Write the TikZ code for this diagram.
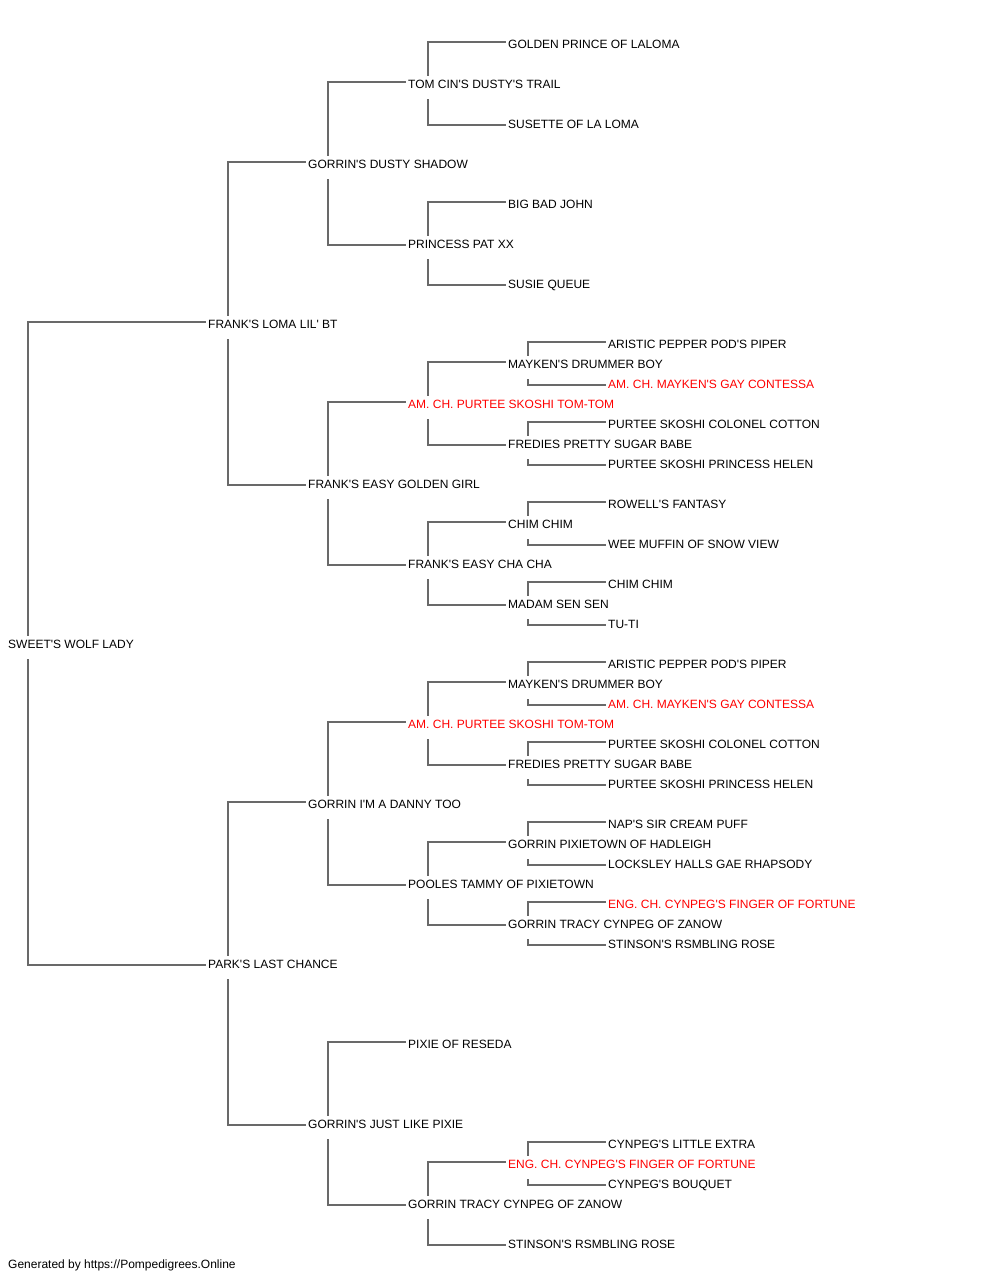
\documentclass[tikz,border=0pt]{standalone}
\usepackage{fontspec}
\setmainfont{Liberation Sans}[Ligatures=TeXOff]
\usetikzlibrary{backgrounds}
\definecolor{ln}{RGB}{105,105,105}
\definecolor{hl}{RGB}{255,0,0}
\tikzset{
  person/.style={anchor=base west, inner xsep=2pt, inner ysep=0pt, text height=12pt, text depth=10.5pt, fill=white, font=\fontsize{12}{14}\selectfont},
  champ/.style={text=hl},
  link/.style={draw=ln, line width=1.5pt}
}
\newcommand\pedNode[5][]{\node[person,#1] (#2) at ({#3-2},{8.3+20*#4}) {#5};}
\newcommand\pedLink[3]{\draw[link] ([yshift=6.3pt]#2.base west) -| ([xshift=22pt]#1.base west) |- ([yshift=3.3pt]#3.base west);}
\begin{document}
\begin{tikzpicture}[x=1pt,y=-1pt]
\useasboundingbox (0,0) rectangle (1000,1280);
% generation 0
\pedNode{s}{8}{32}{SWEET'S WOLF LADY}
% sire side
\pedNode{f}{208}{16}{FRANK'S LOMA LIL' BT}
\pedNode{ff}{308}{8}{GORRIN'S DUSTY SHADOW}
\pedNode{fff}{408}{4}{TOM CIN'S DUSTY'S TRAIL}
\pedNode{ffff}{508}{2}{GOLDEN PRINCE OF LALOMA}
\pedNode{fffm}{508}{6}{SUSETTE OF LA LOMA}
\pedNode{ffm}{408}{12}{PRINCESS PAT XX}
\pedNode{ffmf}{508}{10}{BIG BAD JOHN}
\pedNode{ffmm}{508}{14}{SUSIE QUEUE}
\pedNode{fm}{308}{24}{FRANK'S EASY GOLDEN GIRL}
\pedNode[champ]{fmf}{408}{20}{AM. CH. PURTEE SKOSHI TOM-TOM}
\pedNode{fmff}{508}{18}{MAYKEN'S DRUMMER BOY}
\pedNode{fmfff}{608}{17}{ARISTIC PEPPER POD'S PIPER}
\pedNode[champ]{fmffm}{608}{19}{AM. CH. MAYKEN'S GAY CONTESSA}
\pedNode{fmfm}{508}{22}{FREDIES PRETTY SUGAR BABE}
\pedNode{fmfmf}{608}{21}{PURTEE SKOSHI COLONEL COTTON}
\pedNode{fmfmm}{608}{23}{PURTEE SKOSHI PRINCESS HELEN}
\pedNode{fmm}{408}{28}{FRANK'S EASY CHA CHA}
\pedNode{fmmf}{508}{26}{CHIM CHIM}
\pedNode{fmmff}{608}{25}{ROWELL'S FANTASY}
\pedNode{fmmfm}{608}{27}{WEE MUFFIN OF SNOW VIEW}
\pedNode{fmmm}{508}{30}{MADAM SEN SEN}
\pedNode{fmmmf}{608}{29}{CHIM CHIM}
\pedNode{fmmmm}{608}{31}{TU-TI}
% dam side
\pedNode{m}{208}{48}{PARK'S LAST CHANCE}
\pedNode{mf}{308}{40}{GORRIN I'M A DANNY TOO}
\pedNode[champ]{mff}{408}{36}{AM. CH. PURTEE SKOSHI TOM-TOM}
\pedNode{mfff}{508}{34}{MAYKEN'S DRUMMER BOY}
\pedNode{mffff}{608}{33}{ARISTIC PEPPER POD'S PIPER}
\pedNode[champ]{mfffm}{608}{35}{AM. CH. MAYKEN'S GAY CONTESSA}
\pedNode{mffm}{508}{38}{FREDIES PRETTY SUGAR BABE}
\pedNode{mffmf}{608}{37}{PURTEE SKOSHI COLONEL COTTON}
\pedNode{mffmm}{608}{39}{PURTEE SKOSHI PRINCESS HELEN}
\pedNode{mfm}{408}{44}{POOLES TAMMY OF PIXIETOWN}
\pedNode{mfmf}{508}{42}{GORRIN PIXIETOWN OF HADLEIGH}
\pedNode{mfmff}{608}{41}{NAP'S SIR CREAM PUFF}
\pedNode{mfmfm}{608}{43}{LOCKSLEY HALLS GAE RHAPSODY}
\pedNode{mfmm}{508}{46}{GORRIN TRACY CYNPEG OF ZANOW}
\pedNode[champ]{mfmmf}{608}{45}{ENG. CH. CYNPEG'S FINGER OF FORTUNE}
\pedNode{mfmmm}{608}{47}{STINSON'S RSMBLING ROSE}
\pedNode{mm}{308}{56}{GORRIN'S JUST LIKE PIXIE}
\pedNode{mmf}{408}{52}{PIXIE OF RESEDA}
\pedNode{mmm}{408}{60}{GORRIN TRACY CYNPEG OF ZANOW}
\pedNode[champ]{mmmf}{508}{58}{ENG. CH. CYNPEG'S FINGER OF FORTUNE}
\pedNode{mmmff}{608}{57}{CYNPEG'S LITTLE EXTRA}
\pedNode{mmmfm}{608}{59}{CYNPEG'S BOUQUET}
\pedNode{mmmm}{508}{62}{STINSON'S RSMBLING ROSE}
% footer
\node[anchor=base west, inner sep=0pt, font=\fontsize{12}{14}\selectfont] (footer) at (8,1268.3) {Generated by https://Pompedigrees.Online};
% connectors
\begin{scope}[on background layer]
\pedLink{s}{f}{m}
\pedLink{f}{ff}{fm}
\pedLink{ff}{fff}{ffm}
\pedLink{fff}{ffff}{fffm}
\pedLink{ffm}{ffmf}{ffmm}
\pedLink{fm}{fmf}{fmm}
\pedLink{fmf}{fmff}{fmfm}
\pedLink{fmff}{fmfff}{fmffm}
\pedLink{fmfm}{fmfmf}{fmfmm}
\pedLink{fmm}{fmmf}{fmmm}
\pedLink{fmmf}{fmmff}{fmmfm}
\pedLink{fmmm}{fmmmf}{fmmmm}
\pedLink{m}{mf}{mm}
\pedLink{mf}{mff}{mfm}
\pedLink{mff}{mfff}{mffm}
\pedLink{mfff}{mffff}{mfffm}
\pedLink{mffm}{mffmf}{mffmm}
\pedLink{mfm}{mfmf}{mfmm}
\pedLink{mfmf}{mfmff}{mfmfm}
\pedLink{mfmm}{mfmmf}{mfmmm}
\pedLink{mm}{mmf}{mmm}
\pedLink{mmm}{mmmf}{mmmm}
\pedLink{mmmf}{mmmff}{mmmfm}
\end{scope}
\end{tikzpicture}
\end{document}
